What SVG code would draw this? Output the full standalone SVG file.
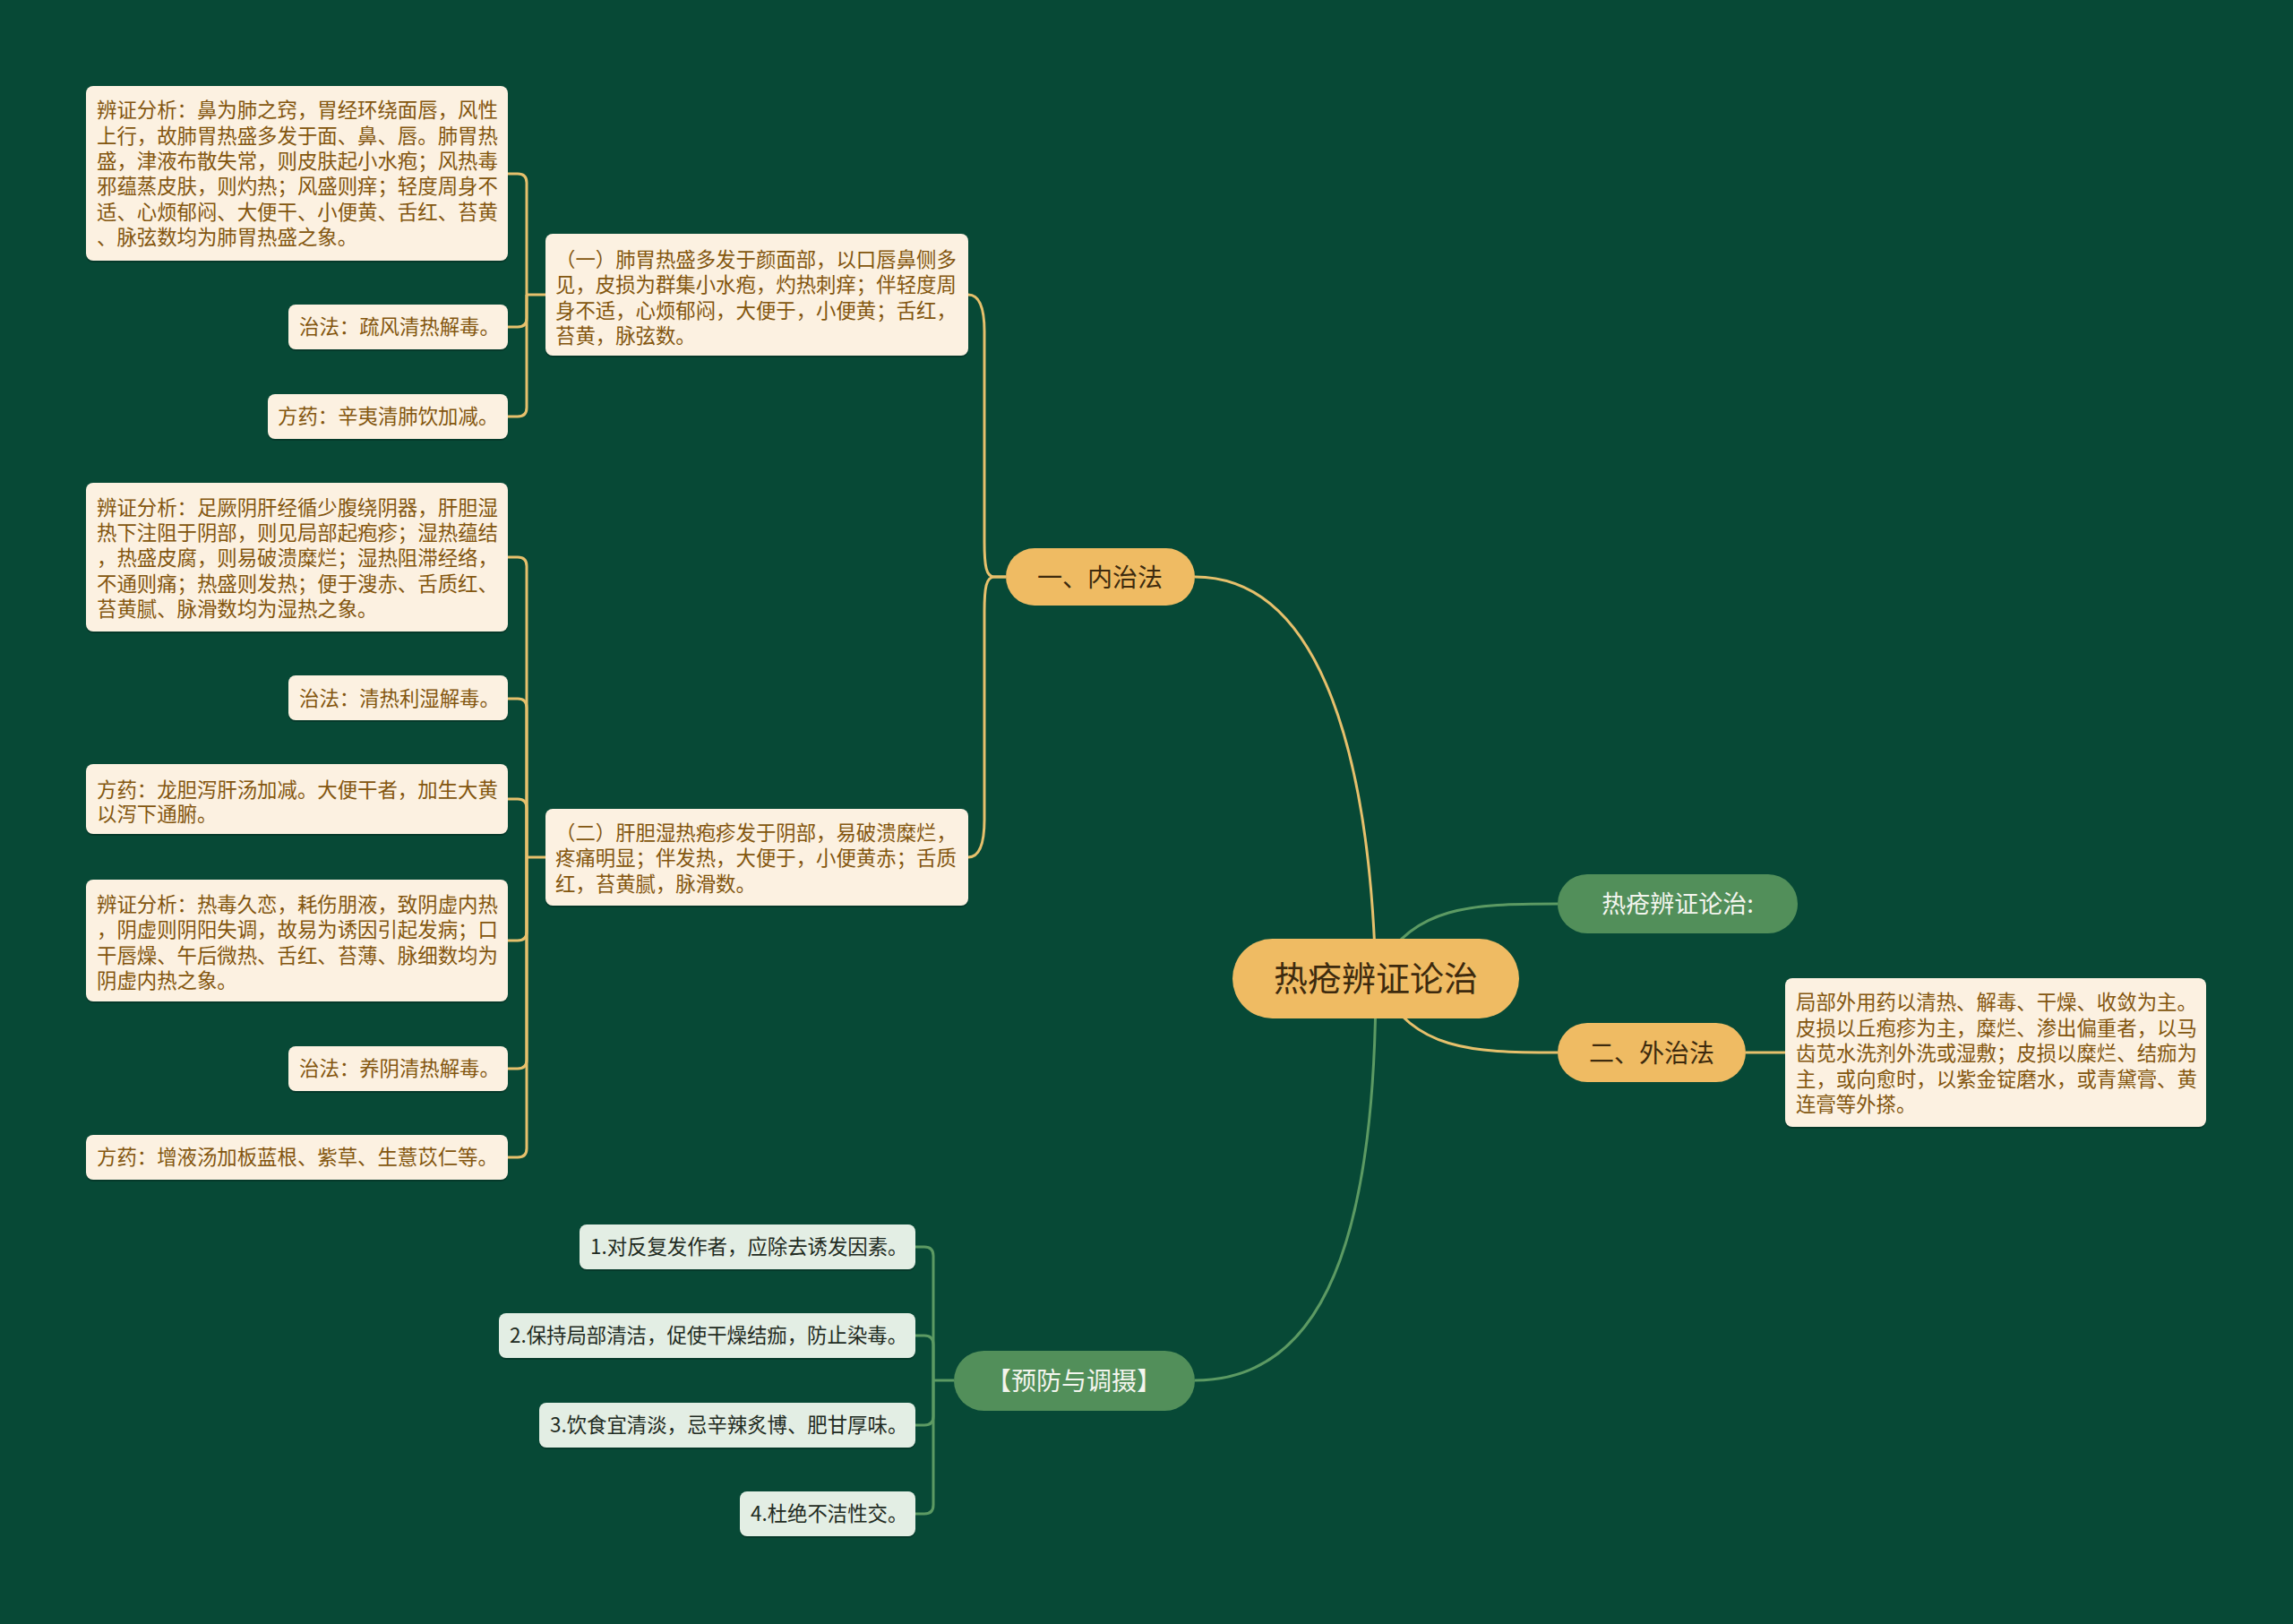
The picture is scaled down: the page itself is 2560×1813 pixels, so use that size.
<svg xmlns="http://www.w3.org/2000/svg" width="2560" height="1813" viewBox="0 0 2560 1813">
<style>
text{font-family:"Noto Sans CJK SC","Noto Sans",sans-serif}
.leaf rect.b{fill:#fcf1e1}
.leaf text{font-size:22.4px;fill:#83560f}
.sh{fill:#000;opacity:.22}
.gl rect.b{fill:#e3eee4}
.gl text{font-size:22.4px;fill:#1f2b22}
.gold rect{fill:#efbb63}
.gold text{fill:#3d2a0e;text-anchor:middle}
.grn rect{fill:#528f5a}
.grn text{fill:#f3f5ee;text-anchor:middle}
.cg{fill:none;stroke:#e6c06c;stroke-width:3}
.cn{fill:none;stroke:#5c9a63;stroke-width:3}
</style>
<rect width="2560" height="1813" fill="#074936"/>
<g id="connectors">
<path class="cg" d="M1334 644 C1480 644 1530 860 1536 1092"/>
<path class="cn" d="M1540 1080 C1580 1012 1640 1009 1739 1009"/>
<path class="cg" d="M1540 1100 C1580 1172 1640 1175 1739 1175"/>
<path class="cn" d="M1536 1092 C1536 1420 1460 1541 1334 1541"/>
<path class="cg" d="M1949 1175 H1993"/>
<path class="cg" d="M1123 644 H1110 C1101 644 1099 632 1099 605 V370 C1099 342 1093 329 1081 329"/>
<path class="cg" d="M1123 644 H1110 C1101 644 1099 656 1099 683 V915 C1099 944 1093 957 1081 957"/>
<path class="cg" d="M609 329 H588"/>
<path class="cg" d="M588 329 V204 Q588 194 578 194 H567"/>
<path class="cg" d="M588 329 V355 Q588 365 578 365 H567"/>
<path class="cg" d="M588 329 V455 Q588 465 578 465 H567"/>
<path class="cg" d="M609 957 H588"/>
<path class="cg" d="M588 957 V632 Q588 622 578 622 H567"/>
<path class="cg" d="M588 957 V790 Q588 780 578 780 H567"/>
<path class="cg" d="M588 957 V902 Q588 892 578 892 H567"/>
<path class="cg" d="M588 957 V1040 Q588 1050 578 1050 H567"/>
<path class="cg" d="M588 957 V1183 Q588 1193 578 1193 H567"/>
<path class="cg" d="M588 957 V1282 Q588 1292 578 1292 H567"/>
<path class="cn" d="M1065 1541 H1042"/>
<path class="cn" d="M1042 1541 V1402 Q1042 1392 1032 1392 H1022"/>
<path class="cn" d="M1042 1541 V1501 Q1042 1491 1032 1491 H1022"/>
<path class="cn" d="M1042 1541 V1581 Q1042 1591 1032 1591 H1022"/>
<path class="cn" d="M1042 1541 V1680 Q1042 1690 1032 1690 H1022"/>
</g>
<g id="root" class="gold"><rect x="1376" y="1048" width="320" height="89" rx="44.5"/><text x="1536" y="1106" font-size="38">热疮辨证论治</text></g>
<g id="n-nei" class="gold"><rect x="1123" y="612" width="211" height="64" rx="32"/><text x="1228" y="655" font-size="28">一、内治法</text></g>
<g id="n-title" class="grn"><rect x="1739" y="976" width="268" height="66" rx="33"/><text x="1873" y="1019" font-size="27">热疮辨证论治:</text></g>
<g id="n-wai" class="gold"><rect x="1739" y="1142" width="210" height="66" rx="33"/><text x="1844" y="1186" font-size="28">二、外治法</text></g>
<g id="n-yufang" class="grn"><rect x="1065" y="1508" width="269" height="67" rx="33.5"/><text x="1199" y="1552" font-size="28">【预防与调摄】</text></g>
<g id="n-wai-text" class="leaf"><rect class="sh" x="1993" y="1094" width="470" height="166" rx="8"/><rect class="b" x="1993" y="1092" width="470" height="166" rx="8"/>
<text x="2005"><tspan x="2005" y="1127">局部外用药以清热、解毒、干燥、收敛为主。</tspan><tspan x="2005" y="1156">皮损以丘疱疹为主，糜烂、渗出偏重者，以马</tspan><tspan x="2005" y="1184">齿苋水洗剂外洗或湿敷；皮损以糜烂、结痂为</tspan><tspan x="2005" y="1213">主，或向愈时，以紫金锭磨水，或青黛膏、黄</tspan><tspan x="2005" y="1241">连膏等外搽。</tspan></text></g>
<g id="n-yi" class="leaf"><rect class="sh" x="609" y="263" width="472" height="136" rx="8"/><rect class="b" x="609" y="261" width="472" height="136" rx="8"/>
<text><tspan x="620" y="298">（一）肺胃热盛多发于颜面部，以口唇鼻侧多</tspan><tspan x="620" y="326">见，皮损为群集小水疱，灼热刺痒；伴轻度周</tspan><tspan x="620" y="355">身不适，心烦郁闷，大便于，小便黄；舌红，</tspan><tspan x="620" y="383">苔黄，脉弦数。</tspan></text></g>
<g id="n-yi-1" class="leaf"><rect class="sh" x="96" y="98" width="471" height="195" rx="8"/><rect class="b" x="96" y="96" width="471" height="195" rx="8"/>
<text><tspan x="108" y="131">辨证分析：鼻为肺之窍，胃经环绕面唇，风性</tspan><tspan x="108" y="160">上行，故肺胃热盛多发于面、鼻、唇。肺胃热</tspan><tspan x="108" y="188">盛，津液布散失常，则皮肤起小水疱；风热毒</tspan><tspan x="108" y="216">邪蕴蒸皮肤，则灼热；风盛则痒；轻度周身不</tspan><tspan x="108" y="245">适、心烦郁闷、大便干、小便黄、舌红、苔黄</tspan><tspan x="108" y="273">、脉弦数均为肺胃热盛之象。</tspan></text></g>
<g id="n-yi-2" class="leaf"><rect class="sh" x="322" y="342" width="245" height="50" rx="8"/><rect class="b" x="322" y="340" width="245" height="50" rx="8"/><text x="334" y="373">治法：疏风清热解毒。</text></g>
<g id="n-yi-3" class="leaf"><rect class="sh" x="299" y="442" width="268" height="50" rx="8"/><rect class="b" x="299" y="440" width="268" height="50" rx="8"/><text x="310" y="473">方药：辛夷清肺饮加减。</text></g>
<g id="n-er" class="leaf"><rect class="sh" x="609" y="905" width="472" height="108" rx="8"/><rect class="b" x="609" y="903" width="472" height="108" rx="8"/>
<text><tspan x="620" y="938">（二）肝胆湿热疱疹发于阴部，易破溃糜烂，</tspan><tspan x="620" y="966">疼痛明显；伴发热，大便于，小便黄赤；舌质</tspan><tspan x="620" y="995">红，苔黄腻，脉滑数。</tspan></text></g>
<g id="n-er-1" class="leaf"><rect class="sh" x="96" y="541" width="471" height="166" rx="8"/><rect class="b" x="96" y="539" width="471" height="166" rx="8"/>
<text><tspan x="108" y="575">辨证分析：足厥阴肝经循少腹绕阴器，肝胆湿</tspan><tspan x="108" y="603">热下注阻于阴部，则见局部起疱疹；湿热蕴结</tspan><tspan x="108" y="631">，热盛皮腐，则易破溃糜烂；湿热阻滞经络，</tspan><tspan x="108" y="660">不通则痛；热盛则发热；便于溲赤、舌质红、</tspan><tspan x="108" y="688">苔黄腻、脉滑数均为湿热之象。</tspan></text></g>
<g id="n-er-2" class="leaf"><rect class="sh" x="322" y="756" width="245" height="50" rx="8"/><rect class="b" x="322" y="754" width="245" height="50" rx="8"/><text x="334" y="788">治法：清热利湿解毒。</text></g>
<g id="n-er-3" class="leaf"><rect class="sh" x="96" y="855" width="471" height="78" rx="8"/><rect class="b" x="96" y="853" width="471" height="78" rx="8"/>
<text><tspan x="108" y="890">方药：龙胆泻肝汤加减。大便干者，加生大黄</tspan><tspan x="108" y="917">以泻下通腑。</tspan></text></g>
<g id="n-er-4" class="leaf"><rect class="sh" x="96" y="984" width="471" height="136" rx="8"/><rect class="b" x="96" y="982" width="471" height="136" rx="8"/>
<text><tspan x="108" y="1018">辨证分析：热毒久恋，耗伤朋液，致阴虚内热</tspan><tspan x="108" y="1046">，阴虚则阴阳失调，故易为诱因引起发病；口</tspan><tspan x="108" y="1075">干唇燥、午后微热、舌红、苔薄、脉细数均为</tspan><tspan x="108" y="1103">阴虚内热之象。</tspan></text></g>
<g id="n-er-5" class="leaf"><rect class="sh" x="322" y="1170" width="245" height="50" rx="8"/><rect class="b" x="322" y="1168" width="245" height="50" rx="8"/><text x="334" y="1201">治法：养阴清热解毒。</text></g>
<g id="n-er-6" class="leaf"><rect class="sh" x="96" y="1269" width="471" height="50" rx="8"/><rect class="b" x="96" y="1267" width="471" height="50" rx="8"/><text x="108" y="1300">方药：增液汤加板蓝根、紫草、生薏苡仁等。</text></g>
<g id="n-yf-1" class="gl"><rect class="sh" x="647" y="1369" width="375" height="50" rx="8"/><rect class="b" x="647" y="1367" width="375" height="50" rx="8"/><text x="659" y="1400">1.对反复发作者，应除去诱发因素。</text></g>
<g id="n-yf-2" class="gl"><rect class="sh" x="557" y="1468" width="465" height="50" rx="8"/><rect class="b" x="557" y="1466" width="465" height="50" rx="8"/><text x="569" y="1499">2.保持局部清洁，促使干燥结痂，防止染毒。</text></g>
<g id="n-yf-3" class="gl"><rect class="sh" x="602" y="1568" width="420" height="50" rx="8"/><rect class="b" x="602" y="1566" width="420" height="50" rx="8"/><text x="614" y="1599">3.饮食宜清淡，忌辛辣炙博、肥甘厚味。</text></g>
<g id="n-yf-4" class="gl"><rect class="sh" x="826" y="1667" width="196" height="50" rx="8"/><rect class="b" x="826" y="1665" width="196" height="50" rx="8"/><text x="838" y="1698">4.杜绝不洁性交。</text></g>
</svg>
